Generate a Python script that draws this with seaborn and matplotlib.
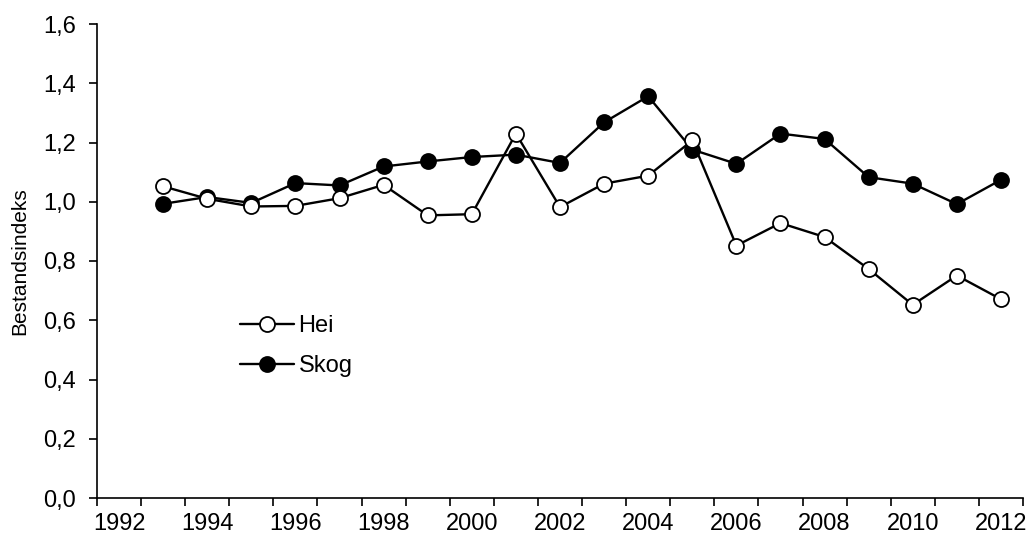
import matplotlib
matplotlib.use("Agg")
import matplotlib.pyplot as plt
import numpy as np
import pandas as pd
import seaborn as sns
from matplotlib.ticker import FixedLocator, FuncFormatter

# Survey years shown on the category axis and the index per habitat
categories = list(range(1992, 2013))
years = list(range(1993, 2013))
hei = [1.052, 1.010, 0.984, 0.986, 1.012, 1.057, 0.954, 0.958, 1.230, 0.982,
       1.061, 1.088, 1.207, 0.852, 0.928, 0.881, 0.773, 0.652, 0.751, 0.671]
skog = [0.993, 1.016, 0.996, 1.063, 1.055, 1.119, 1.136, 1.151, 1.159, 1.131,
        1.268, 1.356, 1.176, 1.128, 1.230, 1.212, 1.083, 1.061, 0.992, 1.074]
year_labels = [str(y) for y in range(1992, 2013, 2)]
y_ticks = [0.0, 0.2, 0.4, 0.6, 0.8, 1.0, 1.2, 1.4, 1.6]

sns.set_theme(style="ticks")
plt.rcParams["font.family"] = ["Liberation Sans", "DejaVu Sans"]
plt.rcParams["text.color"] = "black"

df = pd.DataFrame({
    "pos": [categories.index(y) for y in years],
    "Hei": hei,
    "Skog": skog,
})

fig = plt.figure(figsize=(10.30, 5.36), dpi=100)
ax = fig.add_axes([97 / 1030, 1 - 498 / 536, (1023 - 97) / 1030, (498 - 24) / 536])

common = dict(color="black", linewidth=1.7, marker="o", markersize=10.8,
              markeredgewidth=1.3, markeredgecolor="black")
sns.lineplot(data=df, x="pos", y="Hei", ax=ax, markerfacecolor="white",
             label="Hei", zorder=3, **common)
sns.lineplot(data=df, x="pos", y="Skog", ax=ax, markerfacecolor="black",
             label="Skog", zorder=2, **common)

n = len(categories)
ax.set_xlim(-0.5, n - 0.5)
ax.set_ylim(0, 1.6)

# Tick marks on category boundaries, labels centred on every other category
ax.xaxis.set_major_locator(FixedLocator(np.arange(-0.5, n, 1.0)))
ax.xaxis.set_major_formatter(FuncFormatter(lambda v, p: ""))
ax.xaxis.set_minor_locator(FixedLocator([categories.index(int(s)) for s in year_labels]))
ax.set_xticklabels(year_labels, minor=True)
ax.tick_params(axis="x", which="major", direction="out", length=6, width=1.2, color="black")
ax.tick_params(axis="x", which="minor", length=0, pad=11, labelsize=17, labelcolor="black")

ax.set_yticks(y_ticks)
ax.yaxis.set_major_formatter(FuncFormatter(lambda v, p: f"{v:.1f}".replace(".", ",")))
ax.tick_params(axis="y", direction="out", length=6, width=1.2, color="black",
               pad=9, labelsize=17, labelcolor="black")

for side in ("top", "right"):
    ax.spines[side].set_visible(False)
for side in ("left", "bottom"):
    ax.spines[side].set_color("black")
    ax.spines[side].set_linewidth(1.2)

ax.set_xlabel("")
ax.set_ylabel("Bestandsindeks", fontsize=15, color="black", labelpad=10)

leg = ax.legend(loc="upper left", bbox_to_anchor=(0.131, 0.43), frameon=False,
                fontsize=17, handlelength=2.3, handletextpad=0.2, labelspacing=0.75)
for t in leg.get_texts():
    t.set_color("black")

fig.savefig("out.png", dpi=100)
